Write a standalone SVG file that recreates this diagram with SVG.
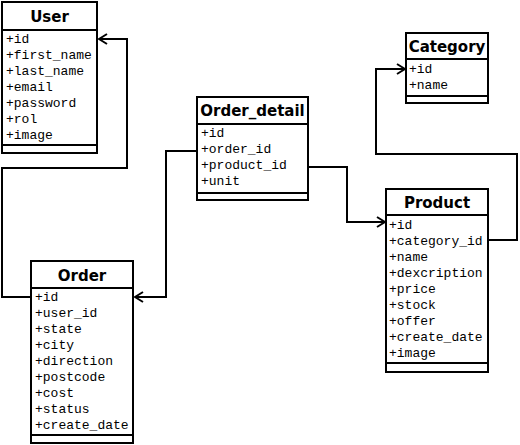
<svg xmlns="http://www.w3.org/2000/svg" width="520" height="445" viewBox="0 0 520 445">
<defs>
<style>
.box{fill:#fff;stroke:#000;stroke-width:2}
.ln{stroke:#000;stroke-width:2;fill:none}
.t{font-family:"DejaVu Sans",sans-serif;font-weight:bold;font-size:15px;text-anchor:middle;fill:#000}
.f{font-family:"Liberation Mono",monospace;font-size:13px;fill:#000}
</style>
<marker id="arr" viewBox="0 0 10 12" refX="9" refY="6" markerWidth="10" markerHeight="12" markerUnits="userSpaceOnUse" orient="auto">
<path d="M1,1 L9,6 L1,11" fill="none" stroke="#000" stroke-width="2"/>
</marker>
</defs>
<rect width="520" height="445" fill="#fff"/>
<g id="connectors">
<path class="ln" d="M31,297 H2 V168 H127 V39 H99" marker-end="url(#arr)"/>
<path class="ln" d="M197,151 H166 V297 H135" marker-end="url(#arr)"/>
<path class="ln" d="M308,167 H347 V222 H385" marker-end="url(#arr)"/>
<path class="ln" d="M488,240 H517 V154 H376 V69 H405" marker-end="url(#arr)"/>
</g>
<g id="user">
<rect class="box" x="2" y="2" width="95" height="151"/>
<line class="ln" x1="2" y1="30" x2="97" y2="30"/>
<line class="ln" x1="2" y1="145" x2="97" y2="145"/>
<text class="t" x="49.5" y="22">User</text>
<text class="f" x="6" y="43">+id</text>
<text class="f" x="6" y="59">+first_name</text>
<text class="f" x="6" y="75">+last_name</text>
<text class="f" x="6" y="91">+email</text>
<text class="f" x="6" y="107">+password</text>
<text class="f" x="6" y="123">+rol</text>
<text class="f" x="6" y="139">+image</text>
</g>
<g id="order_detail">
<rect class="box" x="197" y="97" width="111" height="103"/>
<line class="ln" x1="197" y1="124" x2="308" y2="124"/>
<line class="ln" x1="197" y1="193" x2="308" y2="193"/>
<text class="t" x="252.5" y="116">Order_detail</text>
<text class="f" x="201" y="137">+id</text>
<text class="f" x="201" y="153">+order_id</text>
<text class="f" x="201" y="169">+product_id</text>
<text class="f" x="201" y="185">+unit</text>
</g>
<g id="category">
<rect class="box" x="406" y="33" width="82" height="70"/>
<line class="ln" x1="406" y1="59" x2="488" y2="59"/>
<line class="ln" x1="406" y1="96" x2="488" y2="96"/>
<text class="t" x="447" y="52">Category</text>
<text class="f" x="409" y="73">+id</text>
<text class="f" x="409" y="89">+name</text>
</g>
<g id="product">
<rect class="box" x="386" y="189" width="102" height="183"/>
<line class="ln" x1="386" y1="215" x2="488" y2="215"/>
<line class="ln" x1="386" y1="363" x2="488" y2="363"/>
<text class="t" x="437" y="208">Product</text>
<text class="f" x="389" y="229">+id</text>
<text class="f" x="389" y="245">+category_id</text>
<text class="f" x="389" y="261">+name</text>
<text class="f" x="389" y="277">+dexcription</text>
<text class="f" x="389" y="293">+price</text>
<text class="f" x="389" y="309">+stock</text>
<text class="f" x="389" y="325">+offer</text>
<text class="f" x="389" y="341">+create_date</text>
<text class="f" x="389" y="357">+image</text>
</g>
<g id="order">
<rect class="box" x="31" y="261" width="102" height="182"/>
<line class="ln" x1="31" y1="288" x2="133" y2="288"/>
<line class="ln" x1="31" y1="435" x2="133" y2="435"/>
<text class="t" x="82" y="281">Order</text>
<text class="f" x="35" y="301">+id</text>
<text class="f" x="35" y="317">+user_id</text>
<text class="f" x="35" y="333">+state</text>
<text class="f" x="35" y="349">+city</text>
<text class="f" x="35" y="365">+direction</text>
<text class="f" x="35" y="381">+postcode</text>
<text class="f" x="35" y="397">+cost</text>
<text class="f" x="35" y="413">+status</text>
<text class="f" x="35" y="429">+create_date</text>
</g>
</svg>
